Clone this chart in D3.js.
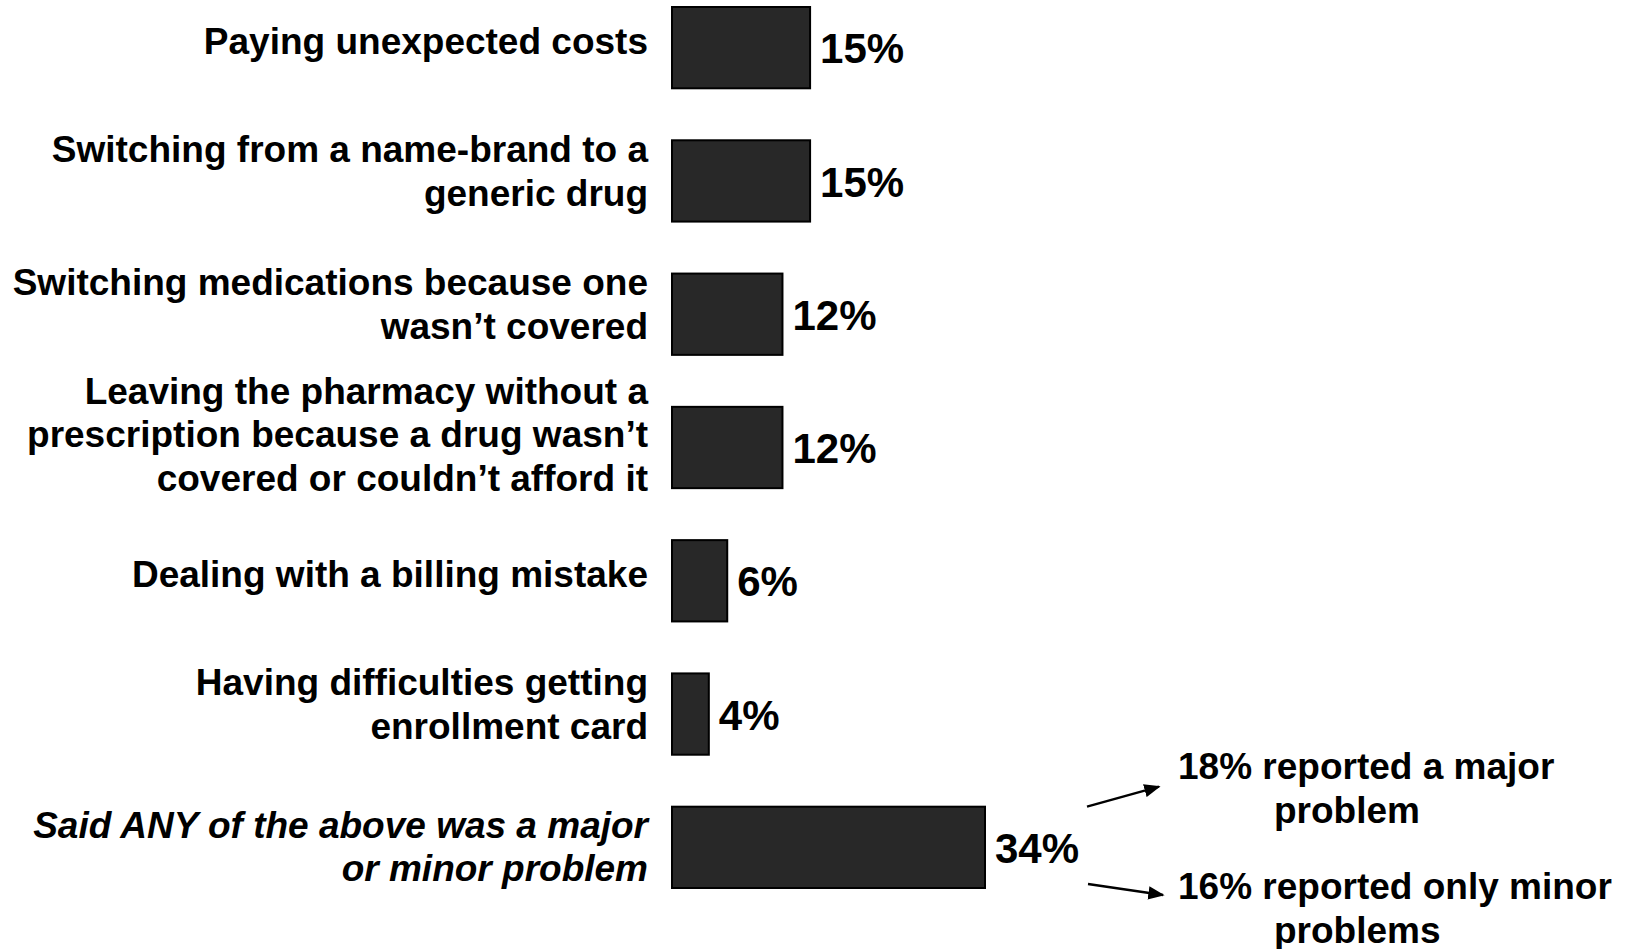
<!DOCTYPE html>
<html>
<head>
<meta charset="utf-8">
<script src="https://cdn.jsdelivr.net/npm/d3@7"></script>
<style>
  html, body { margin: 0; padding: 0; background: #ffffff; }
  svg { display: block; }
  text { font-family: "Liberation Sans", Arial, Arimo, sans-serif; font-weight: bold; fill: #000; }
</style>
</head>
<body>
<svg id="chart" width="1630" height="949"></svg>
<script>
// ---- data ----
const categories = [
  ["Paying unexpected costs"],
  ["Switching from a name-brand to a", "generic drug"],
  ["Switching medications because one", "wasn\u2019t covered"],
  ["Leaving the pharmacy without a", "prescription because a drug wasn\u2019t", "covered or couldn\u2019t afford it"],
  ["Dealing with a billing mistake"],
  ["Having difficulties getting", "enrollment card"],
  ["Said ANY of the above was a major", "or minor problem"]
];
const values = [15, 15, 12, 12, 6, 4, 34];
const italicRow = [false, false, false, false, false, false, true];
const valueLabels = ["15%", "15%", "12%", "12%", "6%", "4%", "34%"];
const annotationMajor = ["18% reported a major", "problem"];
const annotationMinor = ["16% reported only minor", "problems"];

// ---- layout ----
const svg = d3.select("#chart");

const x = d3.scaleLinear().domain([0, 34]).range([672, 985]);
const y = d3.scaleBand()
  .domain(d3.range(values.length))
  .range([7, 888])
  .paddingInner(0.39)
  .paddingOuter(0);

const labelFont = 37, valueFont = 42, lineH = 43.5;

// bars
svg.append("g").selectAll("rect")
  .data(values)
  .join("rect")
  .attr("x", x(0))
  .attr("y", (d, i) => y(i))
  .attr("width", d => x(d) - x(0))
  .attr("height", y.bandwidth())
  .attr("fill", "#282828")
  .attr("stroke", "#000")
  .attr("stroke-width", 2);

// value labels
svg.append("g").selectAll("text")
  .data(values)
  .join("text")
  .attr("x", d => x(d) + 10)
  .attr("y", (d, i) => y(i) + y.bandwidth() / 2 + 1)
  .attr("dy", "0.35em")
  .attr("font-size", valueFont)
  .text((d, i) => valueLabels[i]);

// category labels
const labG = svg.append("g");
categories.forEach((lines, i) => {
  const n = lines.length;
  const cy = y(i) + y.bandwidth() / 2 - 7 - (n - 1) * 3;
  const t = labG.append("text")
    .attr("text-anchor", "end")
    .attr("font-size", labelFont)
    .attr("font-style", italicRow[i] ? "italic" : "normal");
  lines.forEach((ln, j) => {
    t.append("tspan")
      .attr("x", 648)
      .attr("y", cy + (j - (n - 1) / 2) * lineH + (italicRow[i] ? 9 : 0))
      .attr("dy", "0.35em")
      .text(ln);
  });
});

// arrows & annotations
const defs = svg.append("defs");
defs.append("marker")
  .attr("id", "arrow")
  .attr("viewBox", "0 0 10 10")
  .attr("preserveAspectRatio", "none")
  .attr("refX", 9).attr("refY", 5)
  .attr("markerWidth", 6.8).attr("markerHeight", 5.6)
  .attr("markerUnits", "strokeWidth")
  .attr("orient", "auto")
  .append("path")
  .attr("d", "M0,0 L10,5 L0,10 Z")
  .attr("fill", "#000");

const lastI = values.length - 1;
const ax0 = x(values[lastI]) + 102;
const arrows = [
  {x1: ax0, y1: y(lastI), x2: ax0 + 72, y2: y(lastI) - 20},
  {x1: ax0 + 1, y1: y(lastI) + y.bandwidth() - 4, x2: ax0 + 76, y2: y(lastI) + y.bandwidth() + 7}
];
svg.append("g").selectAll("line")
  .data(arrows)
  .join("line")
  .attr("x1", d => d.x1).attr("y1", d => d.y1)
  .attr("x2", d => d.x2).attr("y2", d => d.y2)
  .attr("stroke", "#000")
  .attr("stroke-width", 2.4)
  .attr("marker-end", "url(#arrow)");

function annotate(lines, baseY) {
  const t = svg.append("text").attr("font-size", labelFont);
  t.append("tspan").attr("x", 1178).attr("y", baseY).text(lines[0]);
  t.append("tspan").attr("x", 1274).attr("y", baseY + 43.5).text(lines[1]);
}
annotate(annotationMajor, 779);
annotate(annotationMinor, 899);
</script>
</body>
</html>
